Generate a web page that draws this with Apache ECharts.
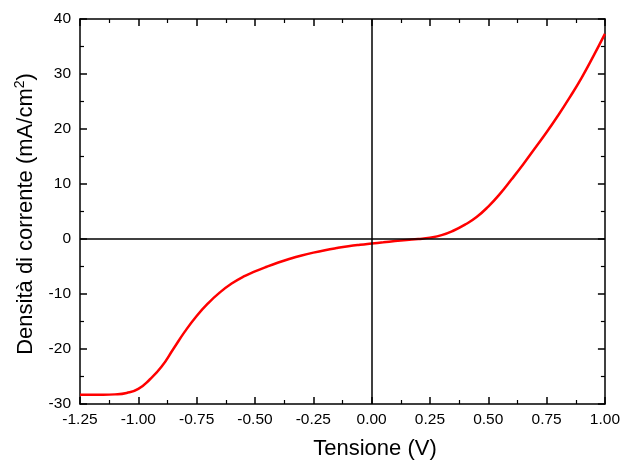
<!DOCTYPE html>
<html><head><meta charset="utf-8">
<script src="https://cdn.jsdelivr.net/npm/echarts@6/dist/echarts.min.js"></script>
<style>html,body{margin:0;padding:0;background:#fff}#c{width:623px;height:465px}</style>
</head><body><div id="c"></div>
<script>
const voltage = [-1.25,-1.20,-1.15,-1.10,-1.05,-1.00,-0.95,-0.90,-0.85,-0.80,-0.75,-0.70,-0.65,-0.60,-0.55,-0.50,-0.45,-0.40,-0.35,-0.30,-0.25,-0.20,-0.15,-0.10,-0.05,0.00,0.05,0.10,0.15,0.20,0.25,0.30,0.35,0.40,0.45,0.50,0.55,0.60,0.65,0.70,0.75,0.80,0.85,0.90,0.95,1.00];
const current = [-28.3,-28.3,-28.3,-28.25,-28.0,-27.25,-25.5,-23.2,-20.0,-16.8,-14.0,-11.65,-9.7,-8.1,-6.85,-5.9,-5.05,-4.28,-3.6,-3.0,-2.48,-2.03,-1.65,-1.32,-1.05,-0.82,-0.6,-0.38,-0.18,0.0,0.25,0.7,1.5,2.6,4.0,5.9,8.2,10.85,13.6,16.5,19.4,22.5,25.8,29.3,33.2,37.3];
const xTitle = 'Tensione (V)';
const yTitle = 'Densità di corrente (mA/cm{sup|2})';

const font = '"Liberation Sans", Arial, sans-serif';
const chart = echarts.init(document.getElementById('c'));
const axisCommon = {
  axisLine: {show: true, onZero: false, lineStyle: {color: '#000', width: 1.5}},
  axisTick: {show: true, inside: true, length: 7, lineStyle: {color: '#000', width: 1.5}},
  minorTick: {show: true, splitNumber: 2, length: 4, lineStyle: {color: '#000', width: 1.2}},
  splitLine: {show: false}
};
chart.setOption({
  animation: false,
  grid: {left: 80, top: 19, right: 16, bottom: 57},
  xAxis: [
    Object.assign({type: 'value', min: -1.25, max: 1.0, interval: 0.25, position: 'bottom',
      name: xTitle, nameLocation: 'middle', nameGap: 34,
      nameTextStyle: {fontFamily: font, fontSize: 22, color: '#000', padding: [0,0,0,65]},
      axisLabel: {fontFamily: font, fontSize: 15.5, color: '#000', margin: 8, formatter: v => v.toFixed(2)}}, axisCommon),
    Object.assign({type: 'value', min: -1.25, max: 1.0, interval: 0.25, position: 'top', axisLabel: {show: false}}, axisCommon)
  ],
  yAxis: [
    Object.assign({type: 'value', min: -30, max: 40, interval: 10, position: 'left',
      name: yTitle, nameLocation: 'middle', nameGap: 41,
      nameTextStyle: {fontFamily: font, fontSize: 22, color: '#000', padding: [0,5,0,0], rich: {sup: {fontFamily: font, fontSize: 14, color: '#000', verticalAlign: 'top', padding: [0,0,12,0]}}},
      axisLabel: {fontFamily: font, fontSize: 15.5, color: '#000', margin: 9}}, axisCommon),
    Object.assign({type: 'value', min: -30, max: 40, interval: 10, position: 'right', axisLabel: {show: false}}, axisCommon)
  ],
  series: [{
    type: 'line', xAxisIndex: 0, yAxisIndex: 0,
    data: voltage.map((v, i) => [v, current[i]]),
    smooth: true, showSymbol: false,
    lineStyle: {color: '#ff0000', width: 2.5},
    markLine: {silent: true, symbol: 'none', label: {show: false},
      lineStyle: {color: '#000', width: 1.5, type: 'solid'},
      data: [{xAxis: 0}, {yAxis: 0}]}
  }]
});
</script></body></html>
